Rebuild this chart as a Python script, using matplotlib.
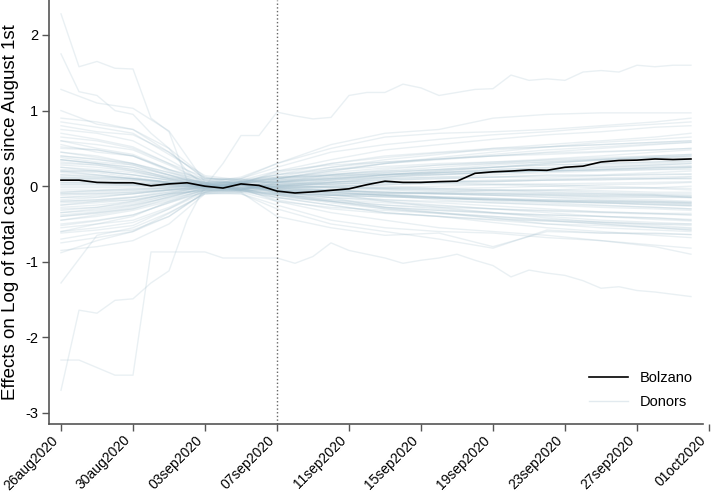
import numpy as np
import pandas as pd
import matplotlib
matplotlib.use("Agg")
import matplotlib.pyplot as plt
import matplotlib.dates as mdates

plt.rcParams['font.family'] = ['Liberation Sans', 'DejaVu Sans']
plt.rcParams['axes.unicode_minus'] = False

# daily dates of the series
dates = pd.date_range("2020-08-26", "2020-09-30", freq="D")
tick_dates = pd.date_range("2020-08-26", "2020-10-01", freq="4D")
tick_labels = [d.strftime("%d%b%Y").lower() for d in tick_dates]
treat_date = pd.Timestamp("2020-09-07")

# Bolzano effect, one value per day
bolzano = [0.08, 0.08, 0.05, 0.045, 0.045, 0.005, 0.03, 0.045, 0.0, -0.025,
           0.03, 0.01, -0.065, -0.09, -0.075, -0.055, -0.035, 0.02, 0.066, 0.05,
           0.05, 0.06, 0.066, 0.17, 0.19, 0.2, 0.215, 0.21, 0.25, 0.265,
           0.32, 0.34, 0.345, 0.36, 0.353, 0.36]

# donors read at these day offsets from 26aug2020
donor_days = [0, 2, 4, 6, 8, 10, 12, 15, 18, 21, 24, 27, 30, 33, 35]
donors = [
    [0.55, 0.45, 0.40, 0.20, 0.02, -0.05, 0.10, 0.20, 0.30, 0.35, 0.40, 0.45, 0.50, 0.55, 0.58],
    [0.45, 0.40, 0.30, 0.15, 0.05, 0.06, 0.05, 0.10, 0.15, 0.20, 0.25, 0.28, 0.30, 0.32, 0.35],
    [0.35, 0.30, 0.25, 0.10, 0.00, 0.02, -0.05, -0.10, -0.12, -0.15, -0.20, -0.22, -0.25, -0.28, -0.30],
    [0.30, 0.28, 0.20, 0.10, 0.03, 0.05, 0.08, 0.15, 0.18, 0.22, 0.25, 0.30, 0.35, 0.38, 0.40],
    [0.25, 0.20, 0.15, 0.08, 0.00, -0.02, -0.08, -0.15, -0.20, -0.25, -0.30, -0.35, -0.40, -0.42, -0.45],
    [0.20, 0.18, 0.12, 0.05, 0.02, -0.04, 0.03, 0.05, 0.08, 0.10, 0.12, 0.15, 0.15, 0.18, 0.20],
    [0.15, 0.12, 0.10, 0.05, 0.00, 0.01, -0.02, -0.05, -0.05, -0.08, -0.10, -0.10, -0.12, -0.12, -0.15],
    [0.10, 0.08, 0.05, 0.03, 0.01, 0.04, 0.05, 0.08, 0.12, 0.15, 0.18, 0.20, 0.22, 0.25, 0.25],
    [0.05, 0.05, 0.03, 0.02, 0.00, -0.01, -0.03, -0.05, -0.08, -0.10, -0.12, -0.15, -0.18, -0.20, -0.22],
    [0.00, 0.00, 0.01, 0.00, 0.00, -0.03, 0.02, 0.03, 0.05, 0.05, 0.06, 0.08, 0.08, 0.10, 0.10],
    [-0.05, -0.05, -0.03, -0.02, 0.00, 0.01, -0.01, -0.02, -0.03, -0.04, -0.05, -0.05, -0.06, -0.08, -0.08],
    [-0.10, -0.08, -0.06, -0.03, -0.01, 0.04, 0.06, 0.12, 0.18, 0.22, 0.28, 0.32, 0.36, 0.40, 0.42],
    [-0.15, -0.12, -0.10, -0.05, 0.00, 0.02, -0.06, -0.12, -0.18, -0.22, -0.26, -0.30, -0.34, -0.36, -0.38],
    [-0.20, -0.18, -0.15, -0.08, -0.02, -0.05, 0.04, 0.06, 0.05, 0.04, 0.03, 0.02, 0.00, -0.02, -0.03],
    [-0.25, -0.20, -0.18, -0.10, 0.00, 0.01, -0.04, -0.08, -0.12, -0.14, -0.16, -0.20, -0.22, -0.25, -0.26],
    [-0.30, -0.28, -0.22, -0.12, -0.03, 0.06, 0.10, 0.15, 0.22, 0.28, 0.32, 0.36, 0.40, 0.45, 0.48],
    [-0.35, -0.32, -0.25, -0.15, -0.02, 0.01, -0.10, -0.18, -0.25, -0.30, -0.35, -0.40, -0.45, -0.48, -0.50],
    [-0.40, -0.35, -0.30, -0.18, -0.05, -0.06, 0.05, 0.02, 0.00, -0.03, -0.05, -0.08, -0.10, -0.12, -0.14],
    [-0.45, -0.40, -0.32, -0.20, -0.04, 0.03, -0.02, 0.05, 0.10, 0.12, 0.15, 0.18, 0.20, 0.22, 0.24],
    [-0.50, -0.45, -0.38, -0.22, -0.05, 0.02, -0.08, -0.15, -0.28, -0.35, -0.42, -0.50, -0.55, -0.58, -0.60],
    [-0.55, -0.50, -0.45, -0.28, -0.06, -0.02, -0.15, -0.25, -0.35, -0.40, -0.48, -0.55, -0.60, -0.65, -0.68],
    [-0.62, -0.58, -0.52, -0.30, -0.08, 0.07, 0.10, 0.20, 0.30, 0.38, 0.45, 0.52, 0.58, 0.62, 0.65],
    [-0.70, -0.62, -0.58, -0.40, -0.08, -0.02, -0.05, -0.10, -0.20, -0.28, -0.35, -0.42, -0.48, -0.52, -0.55],
    [0.65, 0.60, 0.50, 0.30, 0.05, 0.08, 0.12, 0.25, 0.35, 0.42, 0.50, 0.55, 0.60, 0.65, 0.70],
    [0.75, 0.70, 0.60, 0.35, 0.08, 0.02, -0.08, -0.12, -0.10, -0.08, -0.05, -0.05, -0.03, -0.02, 0.00],
    [0.80, 0.72, 0.68, 0.45, 0.10, 0.08, 0.20, 0.35, 0.48, 0.55, 0.62, 0.68, 0.72, 0.78, 0.80],
    [0.90, 0.85, 0.75, 0.50, 0.12, 0.02, 0.00, 0.08, 0.15, 0.20, 0.25, 0.30, 0.35, 0.38, 0.40],
    [0.50, 0.48, 0.40, 0.22, 0.04, -0.07, -0.15, -0.25, -0.35, -0.40, -0.45, -0.50, -0.52, -0.55, -0.58],
    [0.40, 0.35, 0.30, 0.18, 0.03, 0.06, 0.15, 0.30, 0.40, 0.45, 0.50, 0.52, 0.55, 0.58, 0.60],
    [0.12, 0.10, 0.08, 0.04, 0.01, -0.05, -0.12, -0.20, -0.28, -0.32, -0.35, -0.38, -0.40, -0.44, -0.46],
    [-0.08, -0.06, -0.04, -0.02, 0.00, 0.02, 0.03, 0.05, 0.08, 0.10, 0.12, 0.12, 0.14, 0.15, 0.16],
    [0.02, 0.02, 0.01, 0.00, 0.00, -0.02, -0.04, -0.06, -0.08, -0.10, -0.10, -0.12, -0.14, -0.15, -0.15],
    [0.22, 0.20, 0.15, 0.08, 0.02, 0.03, -0.03, 0.00, 0.02, 0.05, 0.06, 0.08, 0.10, 0.10, 0.12],
    [-0.22, -0.20, -0.15, -0.08, -0.01, -0.03, 0.00, -0.02, -0.03, -0.05, -0.06, -0.06, -0.08, -0.10, -0.10],
    [0.28, 0.25, 0.20, 0.10, 0.02, 0.02, 0.00, -0.05, -0.10, -0.15, -0.18, -0.20, -0.22, -0.24, -0.25],
    [-0.28, -0.25, -0.20, -0.10, -0.02, 0.04, 0.08, 0.10, 0.12, 0.15, 0.18, 0.20, 0.22, 0.24, 0.26],
    [0.38, 0.32, 0.28, 0.15, 0.02, 0.05, 0.06, 0.10, 0.15, 0.18, 0.20, 0.22, 0.25, 0.28, 0.30],
    [-0.38, -0.34, -0.26, -0.14, -0.03, -0.05, -0.06, -0.08, -0.12, -0.15, -0.18, -0.20, -0.22, -0.24, -0.26],
    [0.18, 0.15, 0.10, 0.05, 0.01, 0.02, 0.02, 0.00, -0.02, -0.03, -0.02, 0.00, 0.02, 0.03, 0.05],
    [-0.18, -0.15, -0.10, -0.05, -0.01, -0.02, -0.02, 0.00, 0.02, 0.03, 0.02, 0.00, -0.02, -0.03, -0.05],
    [1.00, 0.82, 0.75, 0.45, 0.10, 0.10, 0.25, 0.45, 0.55, 0.62, 0.68, 0.72, 0.78, 0.82, 0.85],
    [1.28, 1.10, 1.03, 0.73, 0.05, 0.12, 0.30, 0.50, 0.65, 0.70, 0.72, 0.75, 0.80, 0.85, 0.90],
    [-0.85, -0.80, -0.72, -0.50, -0.10, -0.10, -0.25, -0.45, -0.55, -0.60, -0.62, -0.68, -0.72, -0.78, -0.82],
    [-0.60, -0.55, -0.48, -0.30, -0.05, -0.08, -0.40, -0.55, -0.65, -0.62, -0.80, -0.60, -0.62, -0.62, -0.64],
    [0.60, 0.55, 0.48, 0.28, 0.05, -0.05, 0.00, 0.05, 0.12, 0.18, 0.22, 0.25, 0.28, 0.30, 0.32],
    [0.20, 0.15, 0.10, 0.05, 0.00, 0.10, 0.30, 0.55, 0.70, 0.75, 0.90, 0.95, 0.97, 0.97, 0.97],
    [-1.28, -0.65, -0.55, -0.35, -0.10, -0.08, -0.20, -0.35, -0.45, -0.55, -0.60, -0.65, -0.72, -0.80, -0.90],
    [-0.88, -0.72, -0.60, -0.40, -0.08, -0.10, -0.30, -0.50, -0.60, -0.70, -0.82, -0.58, -0.62, -0.63, -0.64],
    [0.32, 0.28, 0.22, 0.12, 0.05, 0.06, 0.12, 0.14, 0.16, 0.18, 0.20, 0.22, 0.24, 0.26, 0.27],
    [-0.32, -0.28, -0.20, -0.10, -0.05, -0.06, -0.10, -0.12, -0.14, -0.16, -0.18, -0.20, -0.21, -0.22, -0.23],
    [0.12, 0.12, 0.10, 0.06, 0.04, 0.05, 0.15, 0.22, 0.26, 0.30, 0.32, 0.34, 0.36, 0.38, 0.38],
    [-0.12, -0.10, -0.08, -0.05, -0.03, -0.06, -0.15, -0.20, -0.25, -0.28, -0.30, -0.33, -0.35, -0.37, -0.38],
    [0.45, 0.38, 0.30, 0.18, 0.08, 0.10, 0.02, -0.02, -0.04, -0.06, -0.08, -0.09, -0.10, -0.11, -0.12],
    [-0.45, -0.38, -0.30, -0.16, -0.06, -0.08, 0.00, 0.03, 0.05, 0.06, 0.07, 0.08, 0.09, 0.10, 0.10],
    [0.08, 0.06, 0.05, 0.03, -0.02, -0.04, 0.08, 0.12, 0.15, 0.16, 0.18, 0.20, 0.21, 0.22, 0.22],
    [-0.08, -0.06, -0.05, -0.02, 0.03, 0.05, -0.08, -0.12, -0.14, -0.16, -0.17, -0.18, -0.20, -0.21, -0.22],
    [0.25, 0.22, 0.18, 0.10, 0.06, 0.03, 0.20, 0.28, 0.32, 0.36, 0.40, 0.44, 0.46, 0.48, 0.50],
    [-0.25, -0.22, -0.18, -0.10, -0.06, -0.03, -0.20, -0.28, -0.32, -0.36, -0.40, -0.44, -0.47, -0.50, -0.52],
    [0.60, 0.50, 0.42, 0.22, 0.10, 0.08, 0.05, 0.10, 0.14, 0.16, 0.18, 0.20, 0.22, 0.24, 0.25],
    [-0.60, -0.50, -0.40, -0.20, -0.08, -0.05, -0.05, -0.10, -0.12, -0.14, -0.16, -0.18, -0.19, -0.20, -0.21],
    [0.15, 0.14, 0.10, 0.05, 0.00, -0.03, -0.12, -0.15, -0.18, -0.20, -0.22, -0.24, -0.26, -0.28, -0.30],
    [-0.15, -0.14, -0.10, -0.05, 0.00, 0.03, 0.12, 0.16, 0.20, 0.22, 0.25, 0.28, 0.30, 0.32, 0.33],
    [0.05, 0.04, 0.03, 0.02, 0.02, 0.00, 0.00, -0.01, -0.02, 0.00, 0.02, 0.03, 0.04, 0.05, 0.06],
    [-0.02, -0.02, -0.01, 0.00, -0.01, 0.02, 0.01, 0.03, 0.04, 0.06, 0.08, 0.10, 0.11, 0.12, 0.13],
    [0.03, 0.03, 0.02, 0.01, 0.00, -0.02, -0.05, -0.06, -0.08, -0.09, -0.10, -0.11, -0.12, -0.13, -0.13],
    [0.40, 0.36, 0.28, 0.14, 0.04, -0.04, -0.10, -0.18, -0.22, -0.26, -0.30, -0.32, -0.34, -0.36, -0.36],
    [-0.40, -0.36, -0.28, -0.14, -0.04, 0.04, 0.10, 0.18, 0.24, 0.28, 0.30, 0.32, 0.34, 0.35, 0.36],
    [0.70, 0.62, 0.52, 0.30, 0.12, 0.06, -0.02, -0.06, -0.08, -0.10, -0.12, -0.14, -0.16, -0.18, -0.20],
    [0.52, 0.48, 0.40, 0.22, 0.08, 0.04, 0.18, 0.30, 0.38, 0.44, 0.48, 0.52, 0.55, 0.58, 0.60],
    [-0.52, -0.46, -0.38, -0.22, -0.08, -0.04, -0.18, -0.30, -0.36, -0.40, -0.44, -0.46, -0.48, -0.50, -0.50],
    [0.10, 0.10, 0.08, 0.04, 0.02, 0.04, 0.10, 0.14, 0.16, 0.18, 0.22, 0.24, 0.26, 0.28, 0.30],
    [-0.10, -0.10, -0.08, -0.04, -0.02, -0.04, -0.10, -0.12, -0.14, -0.16, -0.18, -0.19, -0.20, -0.22, -0.24],
    [0.20, 0.20, 0.15, 0.08, 0.04, 0.00, -0.06, -0.08, -0.10, -0.10, -0.12, -0.12, -0.14, -0.14, -0.15],
    [-0.20, -0.18, -0.14, -0.06, -0.02, 0.00, 0.06, 0.08, 0.10, 0.12, 0.12, 0.14, 0.14, 0.16, 0.16],
    [0.85, 0.78, 0.70, 0.42, 0.14, 0.08, 0.15, 0.25, 0.32, 0.36, 0.40, 0.42, 0.45, 0.48, 0.50],
    [-0.75, -0.68, -0.60, -0.36, -0.10, -0.06, -0.12, -0.20, -0.28, -0.32, -0.36, -0.38, -0.40, -0.42, -0.44],
    [0.35, 0.30, 0.22, 0.12, 0.04, 0.06, 0.10, 0.22, 0.30, 0.36, 0.42, 0.48, 0.52, 0.56, 0.58],
    [-0.35, -0.30, -0.24, -0.12, -0.04, -0.06, -0.12, -0.22, -0.30, -0.36, -0.42, -0.46, -0.50, -0.54, -0.56],
]

# donors with sharper day-to-day moves
out_a_days = [0, 1, 2, 3, 4, 5, 6, 7, 8, 10, 12, 15, 18, 21, 24, 27, 30, 33, 35]
out_a = [2.28, 1.58, 1.65, 1.56, 1.55, 0.90, 0.72, 0.08, 0.0, -0.05, 0.05, 0.15, 0.20, 0.25, 0.30, 0.35, 0.38, 0.40, 0.42]
out_b_days = [0, 1, 2, 3, 4, 5, 6, 7, 8, 10, 12, 15, 18, 21, 24, 27, 30, 33, 35]
out_b = [1.75, 1.25, 1.20, 1.00, 0.95, 0.70, 0.50, 0.20, 0.0, 0.02, -0.02, -0.08, -0.12, -0.18, -0.22, -0.25, -0.28, -0.30, -0.32]
out_c_days = [0, 2, 4, 6, 8, 9, 10, 11, 12, 13, 14, 15, 16, 17, 18, 19, 20, 21, 22, 23, 24,
              25, 26, 27, 28, 29, 30, 31, 32, 33, 34, 35]
out_c = [0.35, 0.30, 0.25, 0.15, 0.0, 0.30, 0.67, 0.67, 0.98, 0.93, 0.89, 0.91, 1.20, 1.24, 1.24, 1.35,
         1.30, 1.20, 1.24, 1.28, 1.29, 1.47, 1.40, 1.42, 1.40, 1.51, 1.53, 1.51, 1.60, 1.58, 1.60, 1.60]
out_d_days = [0, 1, 2, 3, 4, 5, 6, 7, 8, 10, 12, 15, 18, 21, 24, 27, 30, 33, 35]
out_d = [-2.70, -1.64, -1.68, -1.51, -1.49, -1.28, -1.12, -0.45, 0.0, 0.05, -0.10, -0.20, -0.30, -0.35, -0.40, -0.45, -0.50, -0.55, -0.58]
out_e_days = list(range(36))
out_e = [-2.30, -2.30, -2.40, -2.50, -2.50, -0.87, -0.87, -0.87, -0.87, -0.95, -0.95, -0.95,
         -0.95, -1.02, -0.93, -0.75, -0.85, -0.90, -0.95, -1.02, -0.98, -0.95, -0.90, -0.98,
         -1.05, -1.20, -1.11, -1.15, -1.18, -1.25, -1.35, -1.33, -1.38, -1.40, -1.43, -1.46]
outliers = [(out_a_days, out_a), (out_b_days, out_b), (out_c_days, out_c),
            (out_d_days, out_d), (out_e_days, out_e)]

donor_col = '#9fbccb'
donor_alpha = 0.22

fig = plt.figure(figsize=(7.14, 4.94), dpi=100)
ax = fig.add_axes([49/714, 70/494, 665/714, 424/494])

for vals in donors:
    ax.plot(dates[donor_days], vals, color=donor_col, alpha=donor_alpha, lw=1.0, zorder=1)
for dd, vals in outliers:
    ax.plot(dates[dd], vals, color=donor_col, alpha=donor_alpha, lw=1.0, zorder=1)

ax.plot(dates, bolzano, color='black', lw=1.2, zorder=3)
ax.axvline(treat_date, color='#666666', ls=':', lw=1.0, zorder=2)

# legend handles
h1, = ax.plot([], [], color='black', lw=1.2, label='Bolzano')
h2, = ax.plot([], [], color=donor_col, alpha=0.3, lw=1.0, label='Donors')
ax.legend(handles=[h1, h2], loc='lower right', frameon=False, fontsize=10.5,
          handlelength=2.7, labelspacing=0.7, borderaxespad=0.6, bbox_to_anchor=(0.99, 0.0))

t0 = mdates.date2num(dates[0])
ax.set_xlim(t0 - 0.667, t0 + 36.28)
ax.set_ylim(-3.146, 2.463)
ax.set_yticks([-3, -2, -1, 0, 1, 2])
ax.set_xticks(tick_dates)
ax.set_xticklabels(tick_labels, rotation=45, ha='right', va='top')

for s in ['top', 'right']:
    ax.spines[s].set_visible(False)
for s in ['left', 'bottom']:
    ax.spines[s].set_color('#555555')
    ax.spines[s].set_linewidth(1.2)
ax.spines['bottom'].set_bounds(t0 - 0.667, t0 + 35.66)
ax.tick_params(direction='out', length=5, width=1, color='#555555')
ax.tick_params(axis='x', labelsize=10, pad=1.5)
ax.tick_params(axis='y', labelsize=10.5, pad=3)
ax.set_ylabel('Effects on Log of total cases since August 1st', fontsize=13.5)
ax.yaxis.set_label_coords(-0.045, 0.5)

fig.savefig('out.png', dpi=100)
